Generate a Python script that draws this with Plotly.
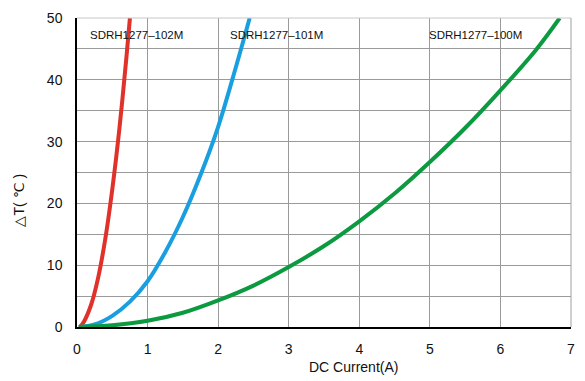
import plotly.graph_objects as go

# DC current (A) vs temperature rise (deg C)
red_name = "SDRH1277–102M"
red_x = [0.05, 0.1, 0.2, 0.3, 0.4, 0.5, 0.6, 0.7, 0.75]
red_y = [0.1, 0.9, 3.6, 8.0, 14.2, 22.3, 32.0, 43.6, 50.0]

blue_name = "SDRH1277–101M"
blue_x = [0.03, 0.25, 0.5, 0.75, 1.0, 1.25, 1.5, 1.75, 2.0, 2.25, 2.447]
blue_y = [0.0, 0.4, 1.8, 4.1, 7.4, 12.1, 17.8, 24.6, 32.4, 42.0, 50.0]

green_name = "SDRH1277–100M"
green_x = [0.02, 0.5, 1.0, 1.5, 2.0, 2.5, 3.0, 3.5, 4.0, 4.5, 5.0, 5.5, 6.0, 6.5, 6.84]
green_y = [0.0, 0.27, 1.0, 2.3, 4.3, 6.7, 9.7, 13.1, 17.1, 21.6, 26.7, 32.2, 38.3, 44.8, 50.0]

x_ticks = [0, 1, 2, 3, 4, 5, 6, 7]
y_ticks = [0, 10, 20, 30, 40, 50]

label_x = [0.85, 2.82, 5.64]
label_y = 47.2

FONT = "Liberation Sans, Arial, Helvetica, sans-serif"

fig = go.Figure()
for xs, ys, col, nm in [
    (red_x, red_y, "#e0312b", red_name),
    (blue_x, blue_y, "#199fe0", blue_name),
    (green_x, green_y, "#0c9a40", green_name),
]:
    fig.add_trace(go.Scatter(x=xs, y=ys, mode="lines", name=nm,
                             line=dict(color=col, width=4, shape="spline", smoothing=1.0),
                             cliponaxis=True))

for lx, nm in zip(label_x, [red_name, blue_name, green_name]):
    fig.add_annotation(x=lx, y=label_y, text=nm, showarrow=False,
                       xanchor="center", yanchor="middle",
                       font=dict(family=FONT, size=11.5, color="#111"))

fig.add_annotation(xref="paper", yref="paper", x=0.56, y=-0.131, text="DC Current(A)",
                   xanchor="center", yanchor="middle",
                   showarrow=False, font=dict(family=FONT, size=14, color="#111"))
fig.add_annotation(xref="paper", yref="paper", x=-0.117, y=0.41, text="△T( ℃ )",
                   xanchor="center", yanchor="middle",
                   textangle=-90, showarrow=False, font=dict(family=FONT, size=14, color="#111"))

# top / right frame in gray
fig.add_shape(type="line", xref="paper", yref="paper", x0=0, x1=1, y0=1, y1=1,
              line=dict(color="#c8c8c8", width=1.2))
fig.add_shape(type="line", xref="paper", yref="paper", x0=1, x1=1, y0=0, y1=1,
              line=dict(color="#a0a0a0", width=1))

fig.update_layout(
    width=585, height=381,
    margin=dict(l=77, r=10, t=15, b=54),
    paper_bgcolor="white", plot_bgcolor="white",
    showlegend=False,
    font=dict(family=FONT, size=14, color="#111"),
    xaxis=dict(range=[0, 7], tickvals=x_ticks, ticktext=[str(v) for v in x_ticks],
               showgrid=True, gridcolor="#9a9a9a", gridwidth=1,
               showline=True, linecolor="black", linewidth=1.5,
               zeroline=False, ticks="", ticklabelstandoff=8,
               tickfont=dict(family=FONT, size=14, color="#111")),
    yaxis=dict(range=[0, 50], tickvals=y_ticks, ticktext=[str(v) for v in y_ticks],
               showgrid=True, gridcolor="#9a9a9a", gridwidth=1,
               minor=dict(dtick=5, showgrid=True, gridcolor="#9a9a9a", gridwidth=1),
               showline=True, linecolor="black", linewidth=1.5,
               zeroline=False, ticks="", ticklabelstandoff=10,
               tickfont=dict(family=FONT, size=14, color="#111")),
)

fig.write_html("out.html")
